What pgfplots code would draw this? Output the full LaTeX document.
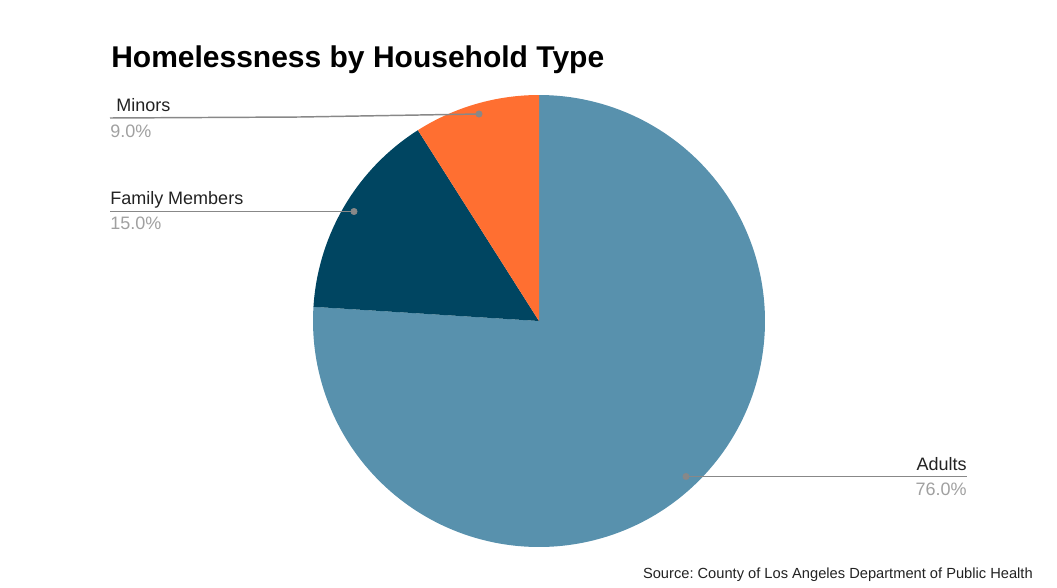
\documentclass[border=0pt]{standalone}
\usepackage{pgfplots}
\usepackage{pgfplotstable}
\pgfplotsset{compat=1.18}
\usepackage{fontspec}
\setmainfont{Liberation Sans}
\frenchspacing
\definecolor{cAdults}{HTML}{5891AD}
\definecolor{cFamily}{HTML}{004561}
\definecolor{cMinors}{HTML}{FF6F31}
\definecolor{cLine}{HTML}{888888}
\definecolor{cPct}{HTML}{A0A0A0}
\definecolor{cText}{HTML}{222222}
\pgfplotstableread{
label value
Adults 76.0
Family 15.0
Minors 9.0
}\piedata
\begin{document}%
\begin{tikzpicture}
\pgfplotstablegetelem{0}{value}\of\piedata \let\vA\pgfplotsretval
\pgfplotstablegetelem{1}{value}\of\piedata \let\vF\pgfplotsretval
\pgfplotstablegetelem{2}{value}\of\piedata \let\vM\pgfplotsretval
\pgfmathsetmacro{\aS}{90}
\pgfmathsetmacro{\aA}{90-3.6*\vA}
\pgfmathsetmacro{\aF}{\aA-3.6*\vF}
\pgfmathsetmacro{\aM}{\aF-3.6*\vM}
\begin{axis}[
  scale only axis, width=792.75pt, height=440.25pt,
  xmin=0, xmax=1057, ymin=0, ymax=587,
  hide axis, clip=false,
]
\path (axis cs:0,0) rectangle (axis cs:1057,587);
\addplot[draw=none, fill=cAdults, domain=\aA:\aS, samples=240] ({539+226*cos(x)},{266+226*sin(x)}) -- (axis cs:539,266) -- cycle;
\addplot[draw=none, fill=cFamily, domain=\aF:\aA, samples=60] ({539+226*cos(x)},{266+226*sin(x)}) -- (axis cs:539,266) -- cycle;
\addplot[draw=none, fill=cMinors, domain=\aM:\aF, samples=40] ({539+226*cos(x)},{266+226*sin(x)}) -- (axis cs:539,266) -- cycle;
% leader lines
\addplot[cLine, line width=1.1pt] coordinates {(110,469) (300,470) (479,473)};
\addplot[cLine, line width=1.1pt] coordinates {(110,375.5) (354,375.5)};
\addplot[cLine, line width=1.1pt] coordinates {(686,110.5) (967,110.5)};
\addplot[only marks, mark=*, mark size=2.4pt, color=cLine] coordinates {(479,473) (354,375.5) (686,110.5)};
% labels
\node[anchor=base west, inner sep=0pt, text=cText, font=\fontsize{13.5}{16}\selectfont] at (axis cs:116,475.5) {Minors};
\node[anchor=base west, inner sep=0pt, text=cPct, font=\fontsize{13.5}{16}\selectfont] at (axis cs:110,449.7) {9.0\%};
\node[anchor=base west, inner sep=0pt, text=cText, font=\fontsize{13.5}{16}\selectfont] at (axis cs:110,382.7) {Family Members};
\node[anchor=base west, inner sep=0pt, text=cPct, font=\fontsize{13.5}{16}\selectfont] at (axis cs:110,357.7) {15.0\%};
\node[anchor=base east, inner sep=0pt, text=cText, font=\fontsize{13.5}{16}\selectfont] at (axis cs:967,117) {Adults};
\node[anchor=base east, inner sep=0pt, text=cPct, font=\fontsize{13.5}{16}\selectfont] at (axis cs:967,91.3) {76.0\%};
% title and source
\node[anchor=base west, inner sep=0pt, font=\bfseries\fontsize{22.5}{26}\selectfont] at (axis cs:111,519.5) {Homelessness by Household Type};
\node[anchor=base east, inner sep=0pt, text=cText, font=\fontsize{11}{13}\selectfont] at (axis cs:1033,9) {Source: County of Los Angeles Department of Public Health};
\end{axis}
\end{tikzpicture}%
\end{document}
